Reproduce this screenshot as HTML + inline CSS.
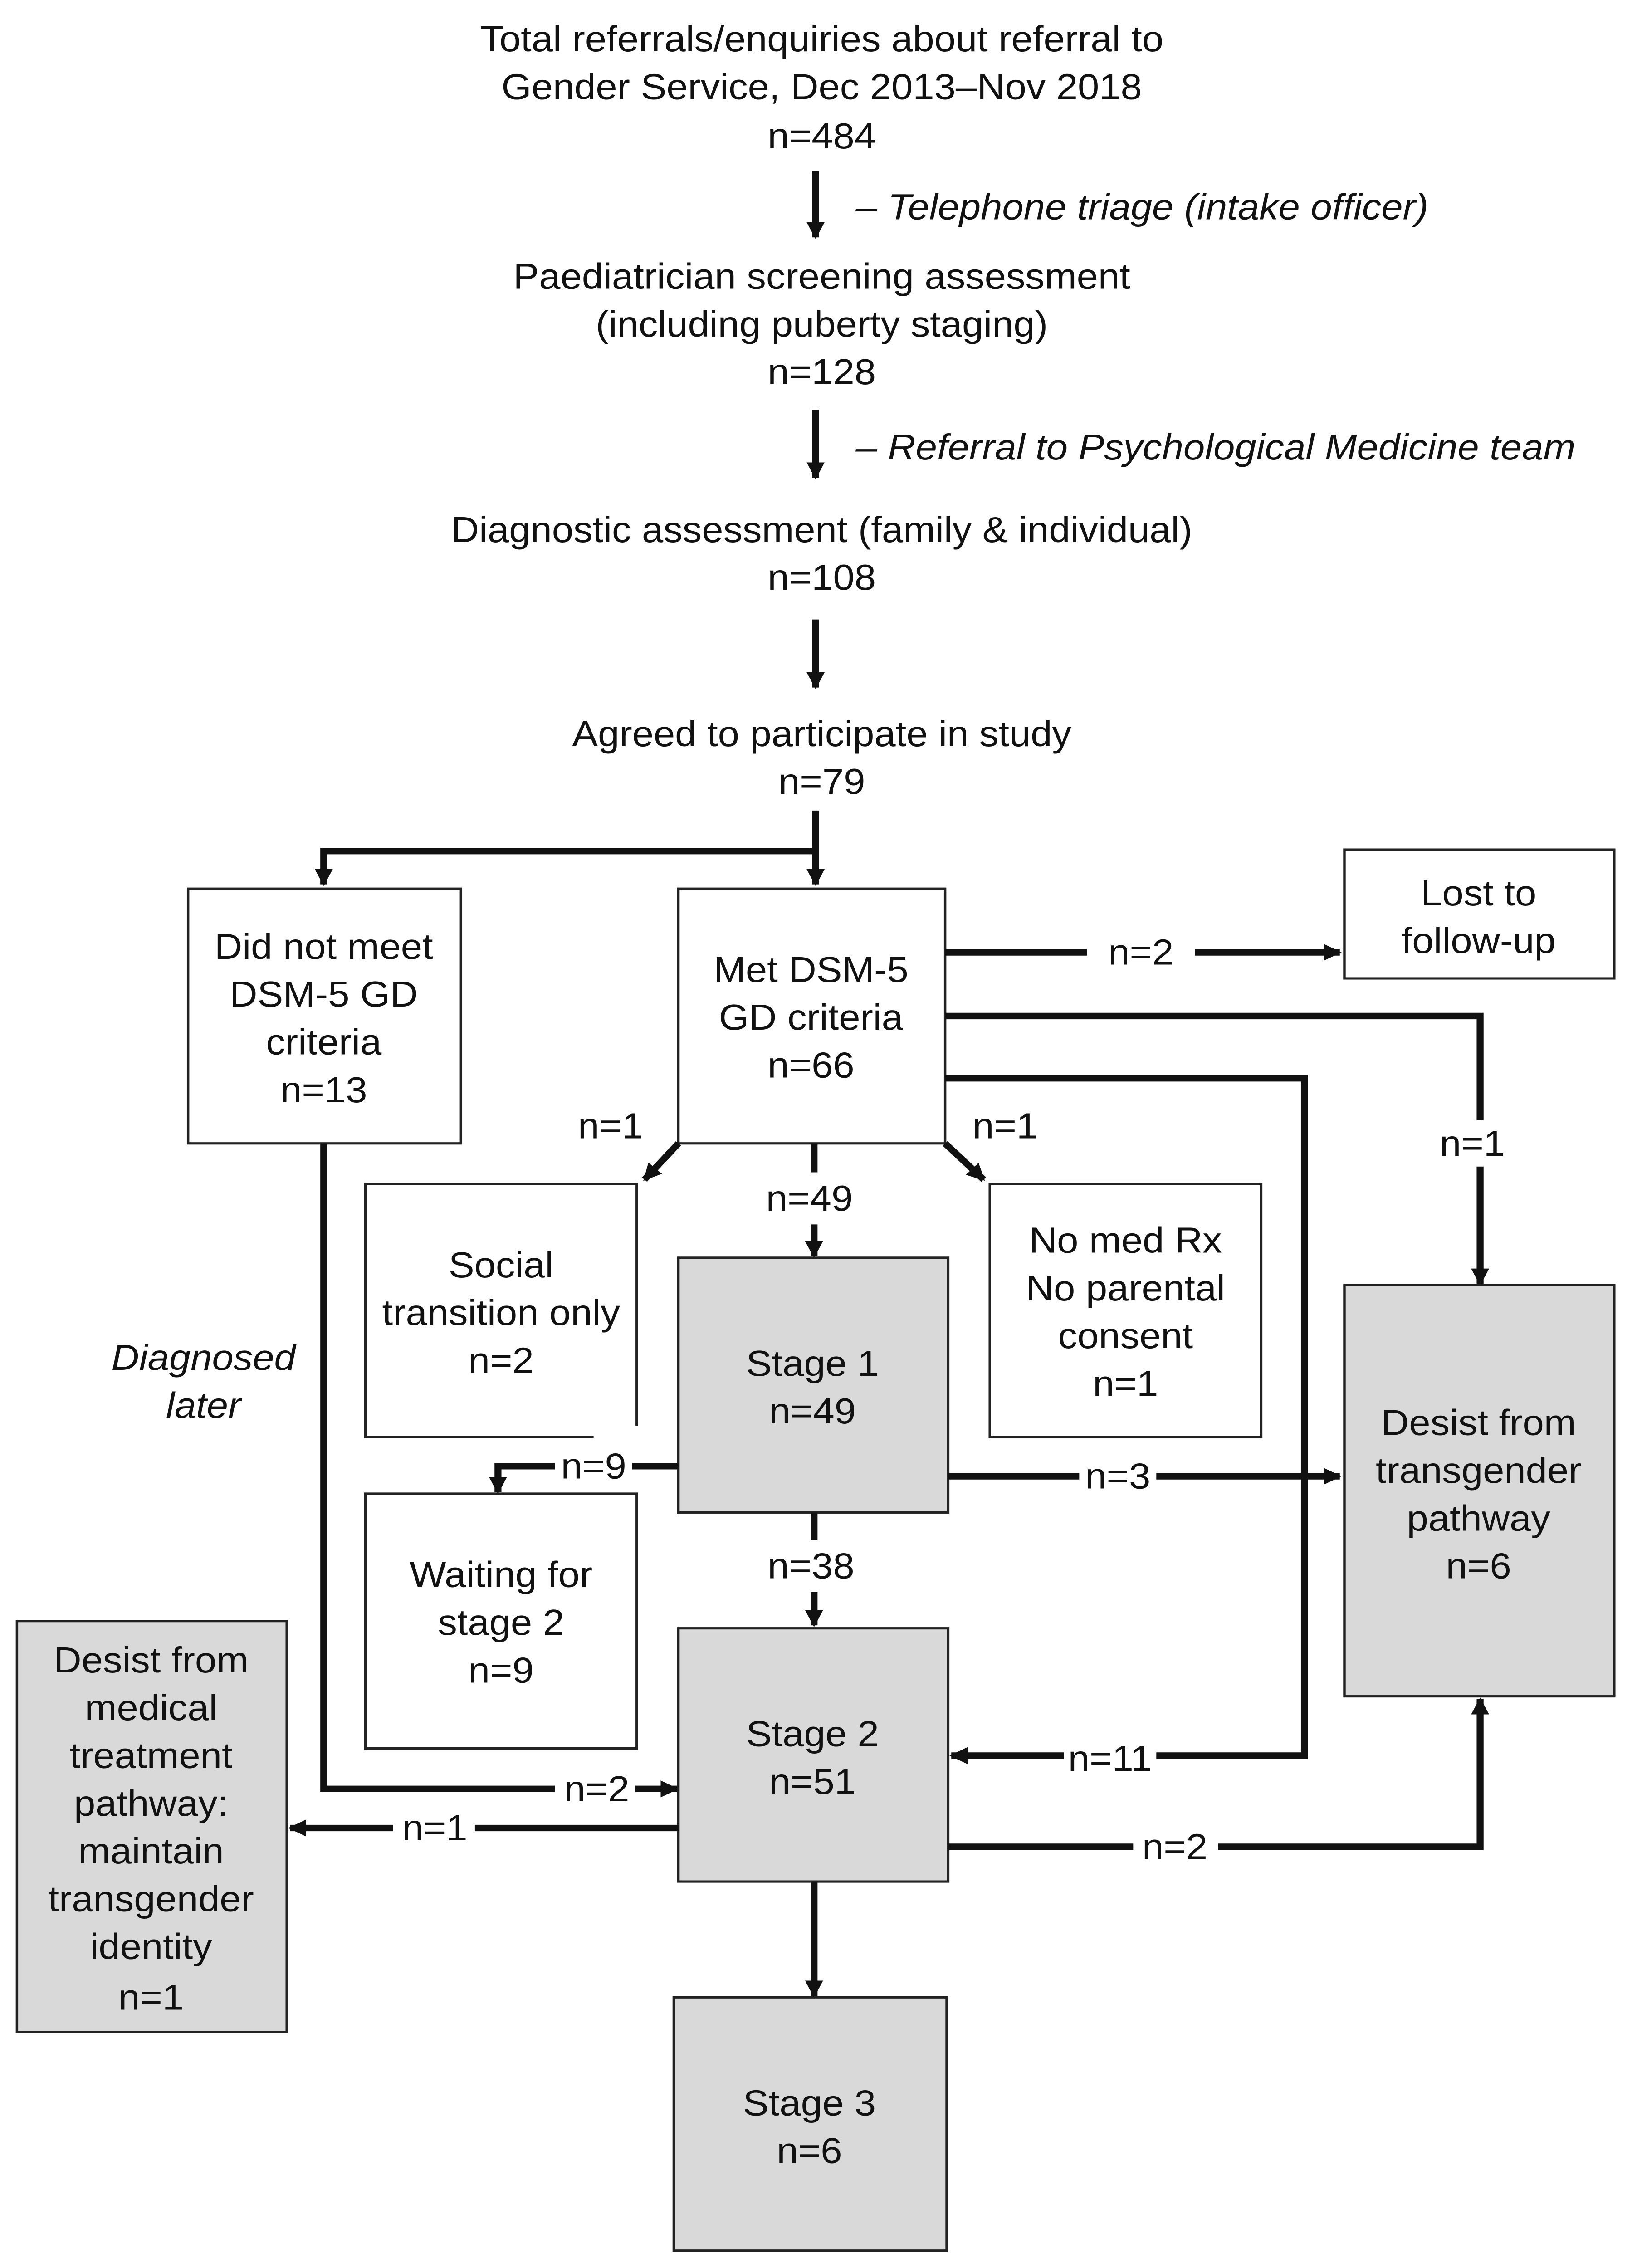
<!DOCTYPE html>
<html><head><meta charset="utf-8"><style>
html,body{margin:0;padding:0;background:#fff;width:100vw;height:100vh;overflow:hidden;}
svg{display:block;position:absolute;left:0;top:0;width:100vw;height:100vh;}
text{font-family:"Liberation Sans",sans-serif;font-size:25px;fill:#111;text-anchor:middle;dominant-baseline:central;}
.it{font-style:italic;text-anchor:start;}
.itc{font-style:italic;}
.ln{stroke:#111;stroke-width:4.5;fill:none;}
.bx{stroke:#222;stroke-width:1.6;fill:#fff;}
.gb{stroke:#222;stroke-width:1.6;fill:#d9d9d9;}
</style></head><body>
<svg viewBox="0 0 1065 1567" preserveAspectRatio="none" xmlns="http://www.w3.org/2000/svg">
<defs><marker id="a" viewBox="0 0 10 10" refX="9" refY="5" markerWidth="2.6" markerHeight="2.6" orient="auto"><path d="M0,0 L10,5 L0,10 z" fill="#111"/></marker></defs>
<rect width="1065" height="1567" fill="#fff"/>
<text x="533" y="27">Total referrals/enquiries about referral to</text>
<text x="533" y="60">Gender Service, Dec 2013–Nov 2018</text>
<text x="533" y="94">n=484</text>
<path class="ln" d="M529,118 V164" marker-end="url(#a)"/>
<text class="it" x="555" y="143">– Telephone triage (intake officer)</text>
<text x="533" y="191">Paediatrician screening assessment</text>
<text x="533" y="224">(including puberty staging)</text>
<text x="533" y="257">n=128</text>
<path class="ln" d="M529,283 V330" marker-end="url(#a)"/>
<text class="it" x="555" y="309">– Referral to Psychological Medicine team</text>
<text x="533" y="366">Diagnostic assessment (family &amp; individual)</text>
<text x="533" y="399">n=108</text>
<path class="ln" d="M529,428 V475" marker-end="url(#a)"/>
<text x="533" y="507">Agreed to participate in study</text>
<text x="533" y="540">n=79</text>
<path class="ln" d="M529,560 V611" marker-end="url(#a)"/>
<path class="ln" d="M529,588 H210 V611" marker-end="url(#a)"/>

<rect class="bx" x="122" y="614" width="177" height="176"/>
<text x="210" y="654">Did not meet</text><text x="210" y="687">DSM-5 GD</text><text x="210" y="720">criteria</text><text x="210" y="753">n=13</text>
<rect class="bx" x="440" y="614" width="173" height="176"/>
<text x="526" y="670">Met DSM-5</text><text x="526" y="703">GD criteria</text><text x="526" y="736">n=66</text>
<rect class="bx" x="872" y="587" width="175" height="89"/>
<text x="959" y="617">Lost to</text><text x="959" y="650">follow-up</text>

<path class="ln" d="M613,658 H705 M775,658 H869" marker-end="url(#a)"/>
<text x="740" y="658">n=2</text>
<path class="ln" d="M613,702 H960 V774 M960,806 V887" marker-end="url(#a)"/>
<text x="955" y="790">n=1</text>
<path class="ln" d="M613,745 H846 V1213 H750 M690,1213 H617" marker-end="url(#a)"/>
<text x="720" y="1215">n=11</text>
<path class="ln" d="M210,790 V1236 H360 M412,1236 H439" marker-end="url(#a)"/>
<text x="387" y="1236">n=2</text>
<text class="itc" x="132" y="938">Diagnosed</text>
<text class="itc" x="132" y="971">later</text>

<text x="396" y="778">n=1</text>
<path class="ln" d="M440,790 L418,815" marker-end="url(#a)"/>
<text x="652" y="778">n=1</text>
<path class="ln" d="M613,790 L638,815" marker-end="url(#a)"/>
<path class="ln" d="M528,790 V810 M528,846 V868" marker-end="url(#a)"/>
<text x="525" y="828">n=49</text>

<path class="bx" d="M413,985 V818 H237 V993 H385"/>
<text x="325" y="874">Social</text><text x="325" y="907">transition only</text><text x="325" y="940">n=2</text>
<rect class="bx" x="642" y="818" width="176" height="175"/>
<text x="730" y="857">No med Rx</text><text x="730" y="890">No parental</text><text x="730" y="923">consent</text><text x="730" y="956">n=1</text>
<rect class="gb" x="440" y="869" width="175" height="176"/>
<text x="527" y="942">Stage 1</text><text x="527" y="975">n=49</text>
<rect class="gb" x="872" y="888" width="175" height="284"/>
<text x="959" y="983">Desist from</text><text x="959" y="1016">transgender</text><text x="959" y="1049">pathway</text><text x="959" y="1082">n=6</text>

<path class="ln" d="M440,1013 H410 M360,1013 H323 V1031" marker-end="url(#a)"/>
<text x="385" y="1013">n=9</text>
<path class="ln" d="M615,1020 H700 M750,1020 H869" marker-end="url(#a)"/>
<text x="725" y="1020">n=3</text>
<path class="ln" d="M528,1045 V1064 M528,1100 V1123" marker-end="url(#a)"/>
<text x="526" y="1082">n=38</text>

<rect class="bx" x="237" y="1032" width="176" height="176"/>
<text x="325" y="1088">Waiting for</text><text x="325" y="1121">stage 2</text><text x="325" y="1154">n=9</text>
<rect class="gb" x="440" y="1125" width="175" height="175"/>
<text x="527" y="1198">Stage 2</text><text x="527" y="1231">n=51</text>
<rect class="gb" x="11" y="1120" width="175" height="284"/>
<text x="98" y="1147">Desist from</text><text x="98" y="1180">medical</text><text x="98" y="1213">treatment</text><text x="98" y="1246">pathway:</text><text x="98" y="1279">maintain</text><text x="98" y="1312">transgender</text><text x="98" y="1345">identity</text><text x="98" y="1380">n=1</text>

<path class="ln" d="M440,1263 H308 M255,1263 H188" marker-end="url(#a)"/>
<text x="282" y="1263">n=1</text>
<path class="ln" d="M615,1276 H735 M790,1276 H960 V1174" marker-end="url(#a)"/>
<text x="762" y="1276">n=2</text>
<path class="ln" d="M528,1300 V1379" marker-end="url(#a)"/>
<rect class="gb" x="437" y="1380" width="177" height="175"/>
<text x="525" y="1453">Stage 3</text><text x="525" y="1486">n=6</text>
</svg>
</body></html>
